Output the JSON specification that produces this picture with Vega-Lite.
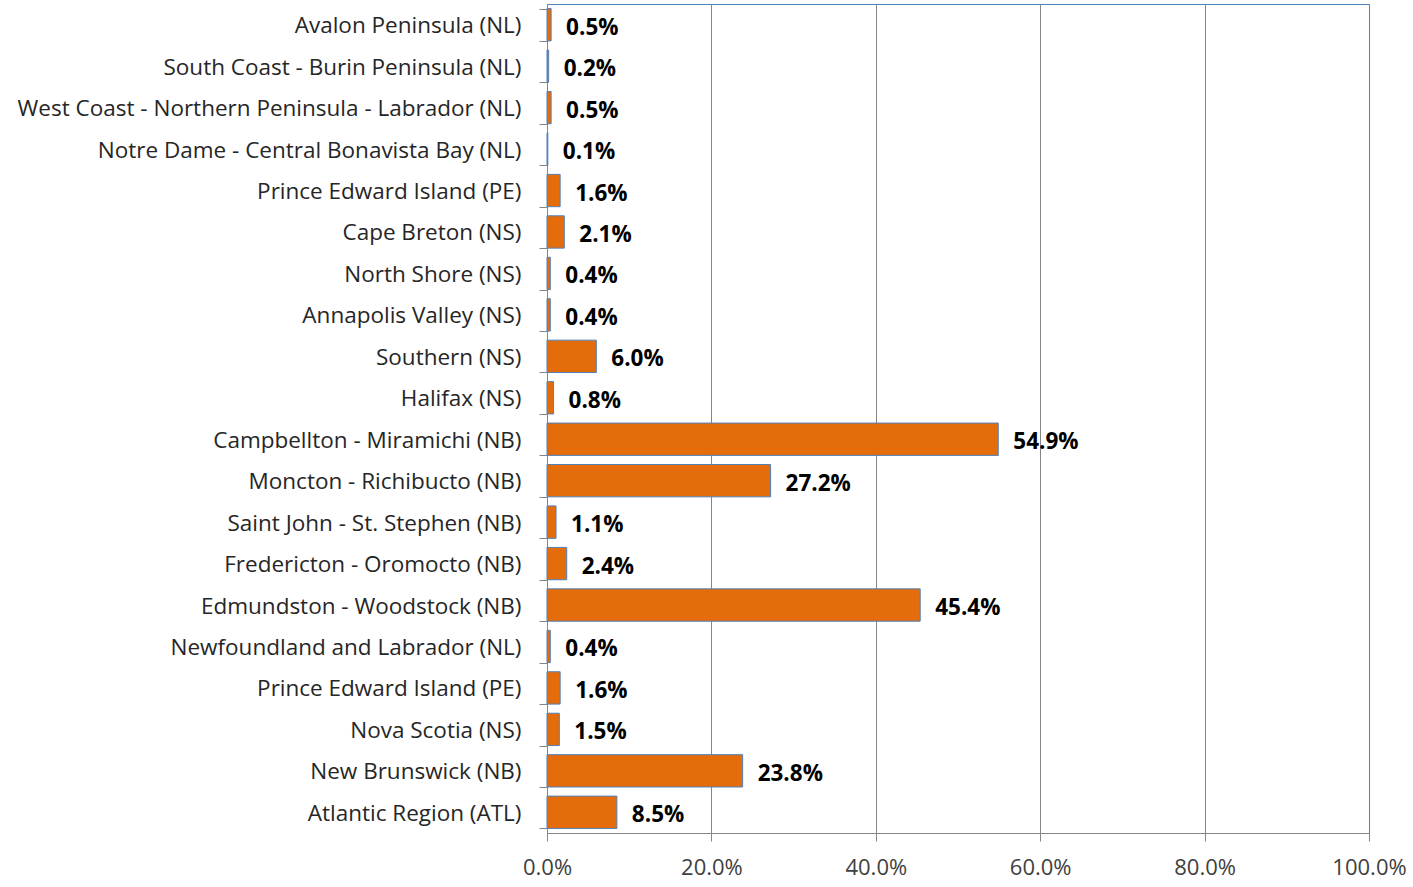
{
  "$schema": "https://vega.github.io/schema/vega-lite/v6.json",
  "autosize": "none",
  "width": 822,
  "height": 829,
  "padding": {"left": 547, "top": 4, "right": 44, "bottom": 54},
  "background": "white",
  "config": {
    "font": "Open Sans",
    "view": {"stroke": "#4F81BD", "strokeWidth": 1}
  },
  "data": {
    "values": [
      {"region": "Avalon Peninsula (NL)", "share": 0.005},
      {"region": "South Coast - Burin Peninsula (NL)", "share": 0.002},
      {"region": "West Coast - Northern Peninsula - Labrador (NL)", "share": 0.005},
      {"region": "Notre Dame - Central Bonavista Bay (NL)", "share": 0.001},
      {"region": "Prince Edward Island (PE) ", "share": 0.016},
      {"region": "Cape Breton (NS)", "share": 0.021},
      {"region": "North Shore (NS)", "share": 0.004},
      {"region": "Annapolis Valley (NS)", "share": 0.004},
      {"region": "Southern (NS)", "share": 0.06},
      {"region": "Halifax (NS)", "share": 0.008},
      {"region": "Campbellton - Miramichi (NB)", "share": 0.549},
      {"region": "Moncton - Richibucto (NB)", "share": 0.272},
      {"region": "Saint John - St. Stephen (NB)", "share": 0.011},
      {"region": "Fredericton - Oromocto (NB)", "share": 0.024},
      {"region": "Edmundston - Woodstock (NB)", "share": 0.454},
      {"region": "Newfoundland and Labrador (NL)", "share": 0.004},
      {"region": "Prince Edward Island (PE)", "share": 0.016},
      {"region": "Nova Scotia (NS)", "share": 0.015},
      {"region": "New Brunswick (NB)", "share": 0.238},
      {"region": "Atlantic Region (ATL)", "share": 0.085}
    ]
  },
  "encoding": {
    "y": {
      "field": "region",
      "type": "nominal",
      "sort": null,
      "title": null,
      "scale": {"paddingInner": 0.22, "paddingOuter": 0.11},
      "axis": {
        "labelFont": "Open Sans",
        "labelFontSize": 22.5,
        "labelColor": "#262626",
        "labelPadding": 18,
        "labelLimit": 600,
        "labelOffset": 1,
        "tickBand": "extent",
        "tickSize": 8,
        "tickColor": "#868686",
        "domainColor": "#868686",
        "grid": false
      }
    }
  },
  "layer": [
    {
      "mark": {"type": "bar", "color": "#E46C0A", "stroke": "#4F81BD", "strokeWidth": 1},
      "encoding": {
        "x": {
          "field": "share",
          "type": "quantitative",
          "title": null,
          "scale": {"domain": [0, 1], "nice": false},
          "axis": {
            "values": [0, 0.2, 0.4, 0.6, 0.8, 1],
            "format": ".1%",
            "labelFont": "Open Sans",
            "labelFontSize": 22,
            "labelColor": "#404040",
            "labelPadding": 16,
            "labelFlush": false,
            "tickSize": 8,
            "tickColor": "#868686",
            "domainColor": "#868686",
            "grid": true,
            "gridColor": {"condition": {"test": "datum.value >= 1", "value": "#4F81BD"}, "value": "#868686"},
            "gridWidth": 1
          }
        }
      }
    },
    {
      "mark": {"type": "text", "align": "left", "baseline": "middle", "dx": 15, "dy": 3, "fontSize": 22.5, "fontWeight": "bold", "font": "Open Sans", "color": "#000000"},
      "encoding": {
        "x": {"field": "share", "type": "quantitative"},
        "text": {"field": "share", "type": "quantitative", "format": ".1%"}
      }
    }
  ]
}
